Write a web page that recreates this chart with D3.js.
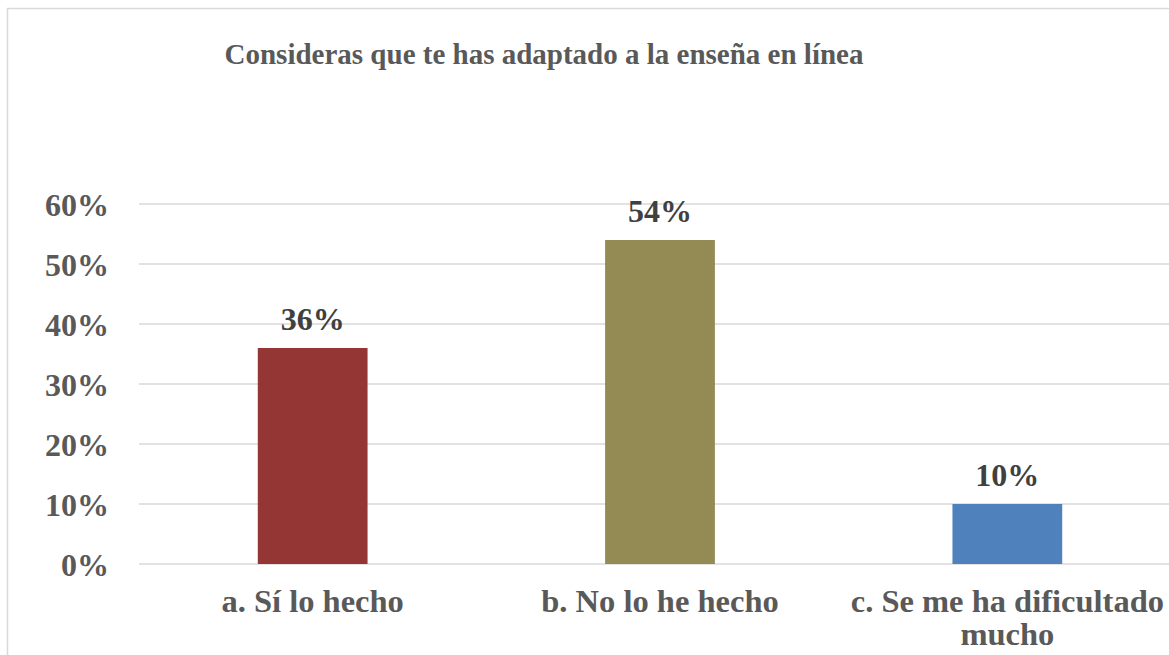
<!DOCTYPE html>
<html>
<head>
<meta charset="utf-8">
<script src="https://cdn.jsdelivr.net/npm/d3@7"></script>
<style>
  body { margin: 0; background: #fff; }
</style>
</head>
<body>
<div id="chart"></div>
<script>
var svgWidth = 1169;
var svgHeight = 655;

// data
var categories = ["a. Sí lo hecho", "b. No lo he hecho", "c. Se me ha dificultado mucho"];
var categoryLines = [["a. Sí lo hecho"], ["b. No lo he hecho"], ["c. Se me ha dificultado", "mucho"]];
var values = [0.36, 0.54, 0.10];
var colors = ["#943634", "#948A54", "#4F81BD"];
var yTicks = [0, 0.1, 0.2, 0.3, 0.4, 0.5, 0.6];
var title = "Consideras que te has adaptado a la enseña en línea";

var serif = "'Liberation Serif', 'Times New Roman', serif";

var margin = { top: 204, left: 139 };
var width = 1042;
var height = 360;

var svg = d3.select("#chart")
  .append("svg")
  .attr("width", svgWidth)
  .attr("height", svgHeight)
  .style("font-family", serif)
  .style("font-weight", "bold");

// outer border
svg.append("rect")
  .attr("x", 7.5)
  .attr("y", 8.5)
  .attr("width", 1200)
  .attr("height", 700)
  .attr("fill", "none")
  .attr("stroke", "#d9d9d9")
  .attr("stroke-width", 1.5);

svg.append("text")
  .attr("x", 544)
  .attr("y", 64)
  .attr("text-anchor", "middle")
  .style("font-family", serif)
  .style("font-size", "29px")
  .attr("fill", "#595959")
  .text(title);

var chartGroup = svg.append("g")
  .attr("transform", `translate(${margin.left}, ${margin.top})`);

var xScale = d3.scaleBand()
  .domain(categories)
  .range([0, width])
  .paddingInner(0.684)
  .paddingOuter(0.342);

var yScale = d3.scaleLinear()
  .domain([0, 0.6])
  .range([height, 0]);

// gridlines
chartGroup.append("g")
  .selectAll("line")
  .data(yTicks)
  .join("line")
  .attr("x1", 0)
  .attr("x2", width)
  .attr("y1", d => yScale(d))
  .attr("y2", d => yScale(d))
  .attr("stroke", "#d9d9d9")
  .attr("stroke-width", 1.5);

// y axis
var leftAxis = d3.axisLeft(yScale)
  .tickValues(yTicks)
  .tickFormat(d3.format(".0%"))
  .tickSize(0)
  .tickPadding(30);

var yAxis = chartGroup.append("g").call(leftAxis);
yAxis.select(".domain").remove();
yAxis.selectAll("text")
  .style("font-family", serif)
  .style("font-size", "32px")
  .style("font-weight", "bold")
  .attr("fill", "#595959")
  .attr("dy", "0.35em");

// bars
chartGroup.selectAll("rect.bar")
  .data(values)
  .join("rect")
  .attr("class", "bar")
  .attr("x", (d, i) => xScale(categories[i]))
  .attr("y", d => yScale(d))
  .attr("width", xScale.bandwidth())
  .attr("height", d => height - yScale(d))
  .attr("fill", (d, i) => colors[i]);

// data labels
chartGroup.selectAll("text.val")
  .data(values)
  .join("text")
  .attr("class", "val")
  .attr("x", (d, i) => xScale(categories[i]) + xScale.bandwidth() / 2)
  .attr("y", d => yScale(d) - 18)
  .attr("text-anchor", "middle")
  .style("font-family", serif)
  .style("font-size", "32px")
  .attr("fill", "#404040")
  .text(d => d3.format(".0%")(d));

// category labels
var catGroup = chartGroup.selectAll("text.cat")
  .data(categories)
  .join("text")
  .attr("class", "cat")
  .attr("text-anchor", "middle")
  .style("font-family", serif)
  .style("font-size", "32.5px")
  .attr("fill", "#595959")
  .attr("transform", d => `translate(${xScale(d) + xScale.bandwidth() / 2}, ${height + 48})`);

catGroup.selectAll("tspan")
  .data((d, i) => categoryLines[i])
  .join("tspan")
  .attr("x", 0)
  .attr("dy", (d, i) => i === 0 ? 0 : 33)
  .text(d => d);
</script>
</body>
</html>
